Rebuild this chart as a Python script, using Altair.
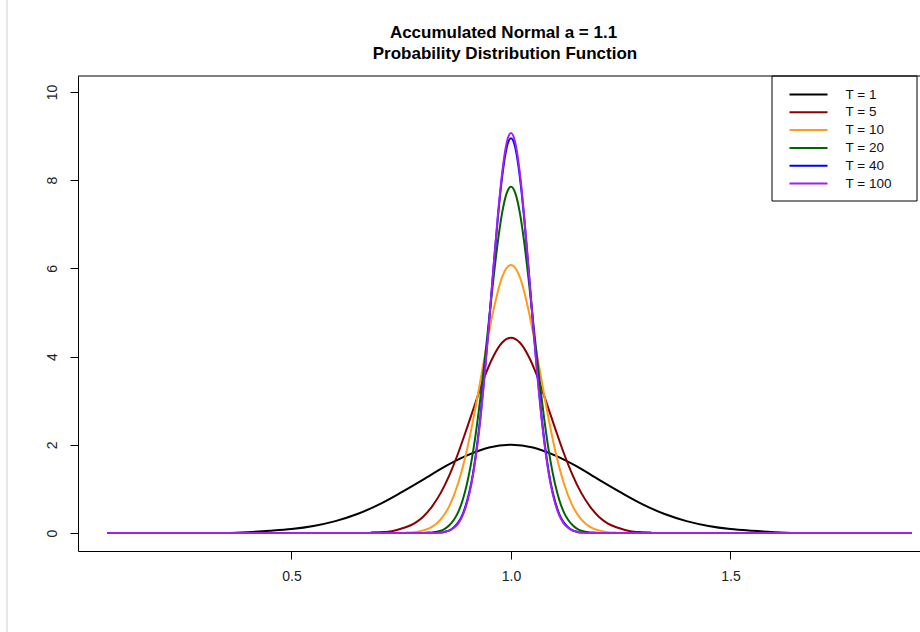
import altair as alt
import pandas as pd

title_lines = ["Accumulated Normal a = 1.1", "Probability Distribution Function"]
series_names = ["T = 1", "T = 5", "T = 10", "T = 20", "T = 40", "T = 100"]
series_colors = ["#000000", "#8B0000", "#FF9A1A", "#006400", "#0000FF", "#A020F0"]

t1_x = [0.36, 0.40, 0.45, 0.50, 0.55, 0.60, 0.65, 0.70, 0.75, 0.80, 0.85, 0.90, 0.95, 1.00,
        1.05, 1.10, 1.15, 1.20, 1.25, 1.30, 1.35, 1.40, 1.45, 1.50, 1.55, 1.60, 1.64]
t1_y = [0.00, 0.02, 0.05, 0.09, 0.16, 0.27, 0.43, 0.65, 0.92, 1.21, 1.51, 1.76, 1.94, 2.00,
        1.94, 1.76, 1.51, 1.21, 0.92, 0.65, 0.43, 0.27, 0.16, 0.09, 0.05, 0.02, 0.00]

t5_x = [round(0.68 + 0.02 * i, 2) for i in range(33)]
t5_y = [0.01, 0.02, 0.03, 0.07, 0.13, 0.22, 0.37, 0.60, 0.91, 1.32, 1.82, 2.39, 2.98, 3.55, 4.01, 4.32,
        4.43,
        4.32, 4.01, 3.55, 2.98, 2.39, 1.82, 1.32, 0.91, 0.60, 0.37, 0.22, 0.13, 0.07, 0.03, 0.02, 0.01]

t10_x = [round(0.76 + 0.02 * i, 2) for i in range(25)]
t10_y = [0.01, 0.02, 0.06, 0.14, 0.31, 0.62, 1.14, 1.90, 2.89, 4.00, 5.05, 5.81,
         6.08,
         5.81, 5.05, 4.00, 2.89, 1.90, 1.14, 0.62, 0.31, 0.14, 0.06, 0.02, 0.01]

t20_x = [round(0.80 + 0.01 * i, 2) for i in range(41)]
t20_y = [0.00, 0.01, 0.01, 0.03, 0.05, 0.10, 0.18, 0.30, 0.48, 0.75, 1.13, 1.63, 2.27, 3.04, 3.91,
         4.84, 5.76, 6.60, 7.27, 7.70,
         7.85,
         7.70, 7.27, 6.60, 5.76, 4.84, 3.91, 3.04, 2.27, 1.63, 1.13, 0.75, 0.48, 0.30, 0.18, 0.10,
         0.05, 0.03, 0.01, 0.01, 0.00]

t40_x = [0.08] + [round(0.82 + 0.01 * i, 2) for i in range(37)] + [1.913]
t40_y = [0.00,
         0.00, 0.01, 0.01, 0.03, 0.06, 0.13, 0.24, 0.43, 0.73, 1.16, 1.79, 2.61, 3.62, 4.78, 5.99,
         7.14, 8.09, 8.73,
         8.95,
         8.73, 8.09, 7.14, 5.99, 4.78, 3.62, 2.61, 1.79, 1.16, 0.73, 0.43, 0.24, 0.13, 0.06, 0.03,
         0.01, 0.01, 0.00,
         0.00]

t100_x = [0.08] + [round(0.82 + 0.01 * i, 2) for i in range(37)] + [1.913]
t100_y = [0.00,
          0.00, 0.00, 0.01, 0.03, 0.06, 0.12, 0.22, 0.40, 0.69, 1.12, 1.74, 2.56, 3.58, 4.75, 6.00,
          7.19, 8.18, 8.84,
          9.07,
          8.84, 8.18, 7.19, 6.00, 4.75, 3.58, 2.56, 1.74, 1.12, 0.69, 0.40, 0.22, 0.12, 0.06, 0.03,
          0.01, 0.00, 0.00,
          0.00]

xs = [t1_x, t5_x, t10_x, t20_x, t40_x, t100_x]
ys = [t1_y, t5_y, t10_y, t20_y, t40_y, t100_y]

rows = []
for k, (name, sx, sy) in enumerate(zip(series_names, xs, ys)):
    for xv, yv in zip(sx, sy):
        rows.append({"series": name, "k": k, "x": xv, "y": yv})
df = pd.DataFrame(rows)

FONT = "Liberation Sans"
W, H = 842, 475

lines = alt.Chart(df).mark_line(strokeWidth=2, clip=True, interpolate="monotone").encode(
    x=alt.X("x:Q",
            scale=alt.Scale(domain=[0.01367, 1.9317], nice=False, zero=False),
            axis=alt.Axis(values=[0.5, 1.0, 1.5], format=".1f", title=None, grid=False,
                          labelPadding=10)),
    y=alt.Y("y:Q",
            scale=alt.Scale(domain=[-0.408, 10.363], nice=False, zero=False),
            axis=alt.Axis(values=[0, 2, 4, 6, 8, 10], title=None, grid=False,
                          labelAngle=270, labelPadding=11)),
    color=alt.Color("series:N",
                    scale=alt.Scale(domain=series_names, range=series_colors),
                    sort=series_names,
                    legend=alt.Legend(orient="none", legendX=708, legendY=-4, title=None,
                                      symbolType="M-2,0H2", symbolSize=361,
                                      symbolStrokeWidth=2, labelFontSize=13.5, labelFont=FONT,
                                      labelColor="#111111", labelOffset=26.5, padding=12,
                                      rowPadding=0.8)),
)

frame = alt.Chart(alt.Data(values=[{"a": 1}])).mark_rect(
    fill="white", stroke="black", strokeWidth=1
).encode(x=alt.value(694), x2=alt.value(839), y=alt.value(0), y2=alt.value(125))

top_rule = alt.Chart(alt.Data(values=[{"a": 1}])).mark_rule(color="black", strokeWidth=1).encode(
    x=alt.value(0), x2=alt.value(W), y=alt.value(0))

edge_rule = alt.Chart(alt.Data(values=[{"a": 1}])).mark_rule(color="#d0d0d0", strokeWidth=1).encode(
    x=alt.value(-71), y=alt.value(-76), y2=alt.value(556))

title_df = pd.DataFrame({"t": title_lines, "line": [0, 1]})
title1 = alt.Chart(title_df[title_df.line == 0]).mark_text(
    font=FONT, fontSize=17, fontWeight="bold", align="center", baseline="alphabetic", color="black"
).encode(text="t:N", x=alt.value(425.5), y=alt.value(-38))
title2 = alt.Chart(title_df[title_df.line == 1]).mark_text(
    font=FONT, fontSize=17, fontWeight="bold", align="center", baseline="alphabetic", color="black"
).encode(text="t:N", x=alt.value(427), y=alt.value(-17))

chart = alt.layer(edge_rule, frame, top_rule, title1, title2, lines).properties(
    width=W, height=H,
    autosize=alt.AutoSizeParams(type="none"),
    padding={"left": 78, "top": 76, "right": 0, "bottom": 81},
).configure_view(stroke=None).configure_axis(
    domainColor="black", tickColor="black", tickSize=8, labelFont=FONT, labelFontSize=14,
    labelColor="#222222", domainWidth=1, tickWidth=1
)

chart.save("out.html", embed_options={"renderer": "svg", "actions": False})
